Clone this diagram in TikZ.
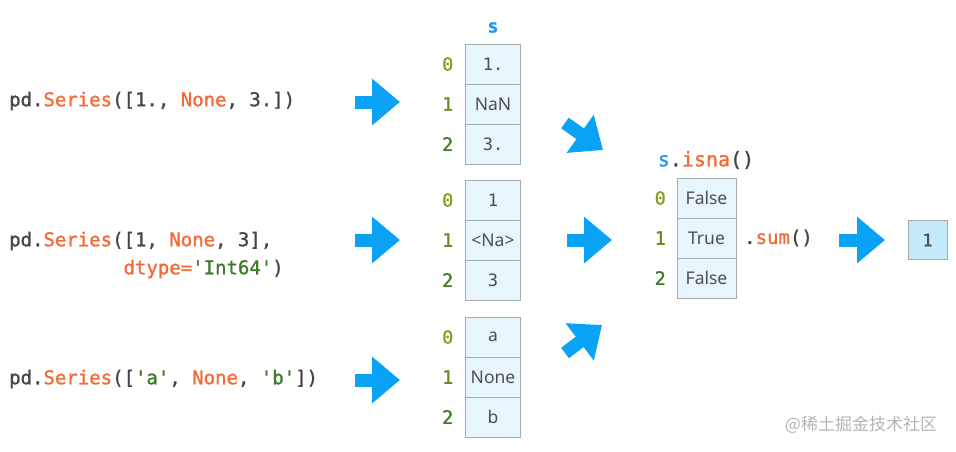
\documentclass[tikz,border=0pt]{standalone}
\usepackage{fontspec}
\setmainfont{Noto Sans}
\setsansfont{Noto Sans}
\setmonofont{DejaVu Sans Mono}[RawFeature={embolden=1.2}]
\newfontfamily\cellmono{DejaVu Sans Mono}
\newfontfamily\cjkfont{Noto Sans CJK SC}
\usetikzlibrary{arrows.meta, positioning}

\definecolor{codegray}{HTML}{454545}
\definecolor{codeorange}{HTML}{F26A36}
\definecolor{codegreen}{HTML}{3D7A2A}
\definecolor{sblue}{HTML}{1E9BE8}
\definecolor{arrowblue}{HTML}{0AA2F5}
\definecolor{idx0}{HTML}{8C9A1C}
\definecolor{idx1}{HTML}{6A8A22}
\definecolor{idx2}{HTML}{3F7A28}
\definecolor{cellfill}{HTML}{E7F5FC}
\definecolor{cellborder}{HTML}{A4ACB2}
\definecolor{celltext}{HTML}{4E4E4E}
\definecolor{resfill}{HTML}{C4E9F9}
\definecolor{wmgray}{HTML}{B4B4B4}

\newcommand{\kw}[1]{\textcolor{codeorange}{#1}}
\newcommand{\strlit}[1]{\textcolor{codegreen}{#1}}

\begin{document}
\begin{tikzpicture}[
      x=1pt, y=-1pt,
      code/.style={anchor=west, align=left, inner sep=0pt, text=codegray, font=\ttfamily\fontsize{19}{28}\selectfont},
      cell/.style={rectangle, draw=cellborder, fill=cellfill, line width=0.8pt, outer sep=0pt, minimum width=55pt, minimum height=40pt, inner sep=0pt, text=celltext, font=\sffamily\fontsize{17.5}{20}\selectfont},
      numcell/.style={cell, font=\cellmono\fontsize{17}{20}\selectfont},
      idx/.style={inner sep=0pt, font=\ttfamily\fontsize{18.5}{20}\selectfont},
      bigarrow/.style={-{Triangle[length=28pt, width=45pt]}, line width=13pt, draw=arrowblue}
    ]
    \useasboundingbox (0,0) rectangle (956,451);

    % code on the left
    \node[code] (code1) at (9,101) {pd.\kw{Series}([1., \kw{None}, 3.])};
    \node[code] (code2) at (9,255) {pd.\kw{Series}([1, \kw{None}, 3],\\\phantom{pd.Series(}\kw{dtype=}\strlit{'Int64'})};
    \node[code] (code3) at (9,379) {pd.\kw{Series}([\strlit{'a'}, \kw{None}, \strlit{'b'}])};

    % first series
    \node[numcell] (s0) at (493,64) {1.};
    \node[cell, below=0pt of s0] (s1) {NaN};
    \node[numcell, below=0pt of s1] (s2) {3.};
    \node[idx, text=sblue, above=11pt of s0] (stitle) {\bfseries s};
    \node[idx, text=idx0, left=12pt of s0] (i0) {0};
    \node[idx, text=idx1, left=12pt of s1] (i1) {1};
    \node[idx, text=idx2, left=12pt of s2] (i2) {2};

    % second series
    \node[numcell] (t0) at (493,200) {1};
    \node[cell, below=0pt of t0] (t1) {<Na>};
    \node[numcell, below=0pt of t1] (t2) {3};
    \node[idx, text=idx0, left=12pt of t0] (j0) {0};
    \node[idx, text=idx1, left=12pt of t1] (j1) {1};
    \node[idx, text=idx2, left=12pt of t2] (j2) {2};

    % third series
    \node[cell] (u0) at (493,337) {a};
    \node[cell, below=0pt of u0] (u1) {None};
    \node[cell, below=0pt of u1] (u2) {b};
    \node[idx, text=idx0, left=12pt of u0] (k0) {0};
    \node[idx, text=idx1, left=12pt of u1] (k1) {1};
    \node[idx, text=idx2, left=12pt of u2] (k2) {2};

    % isna result
    \node[cell, minimum width=59pt] (b0) at (706.5,198) {False};
    \node[cell, minimum width=59pt, below=0pt of b0] (b1) {True};
    \node[cell, minimum width=59pt, below=0pt of b1] (b2) {False};
    \node[code, anchor=center, font=\ttfamily\fontsize{20}{24}\selectfont] (btitle) at (706,160) {\textcolor{sblue}{s}.\kw{isna}()};
    \node[idx, text=idx0, left=11pt of b0] (l0) {0};
    \node[idx, text=idx1, left=11pt of b1] (l1) {1};
    \node[idx, text=idx2, left=11pt of b2] (l2) {2};
    \node[code, right=8pt of b1] (sum) {.\kw{sum}()};

    % final value
    \node[cell, fill=resfill, minimum width=39pt, minimum height=39pt, font=\ttfamily\fontsize{17}{20}\selectfont] (res) at (927.5,240) {1};

    % arrows
    \coordinate (a1s) at (355,102);  \coordinate (a1e) at (400,102);
    \coordinate (a2s) at (355,240);  \coordinate (a2e) at (400,240);
    \coordinate (a3s) at (355,380);  \coordinate (a3e) at (400,380);
    \coordinate (d1s) at (565,123);  \coordinate (d1e) at (603,150);
    \coordinate (d2s) at (567,240);  \coordinate (d2e) at (612,240);
    \coordinate (d3s) at (565,353);  \coordinate (d3e) at (602,325);
    \coordinate (f1s) at (839,240);  \coordinate (f1e) at (885,240);
    \draw[bigarrow] (a1s) -- (a1e);
    \draw[bigarrow] (a2s) -- (a2e);
    \draw[bigarrow] (a3s) -- (a3e);
    \draw[bigarrow] (d1s) -- (d1e);
    \draw[bigarrow] (d2s) -- (d2e);
    \draw[bigarrow] (d3s) -- (d3e);
    \draw[bigarrow] (f1s) -- (f1e);

    % watermark
    \node[inner sep=0pt, text=wmgray, font=\cjkfont\fontsize{17}{20}\selectfont] (wm) at (861,425) {@稀土掘金技术社区};
  \end{tikzpicture}
\end{document}
